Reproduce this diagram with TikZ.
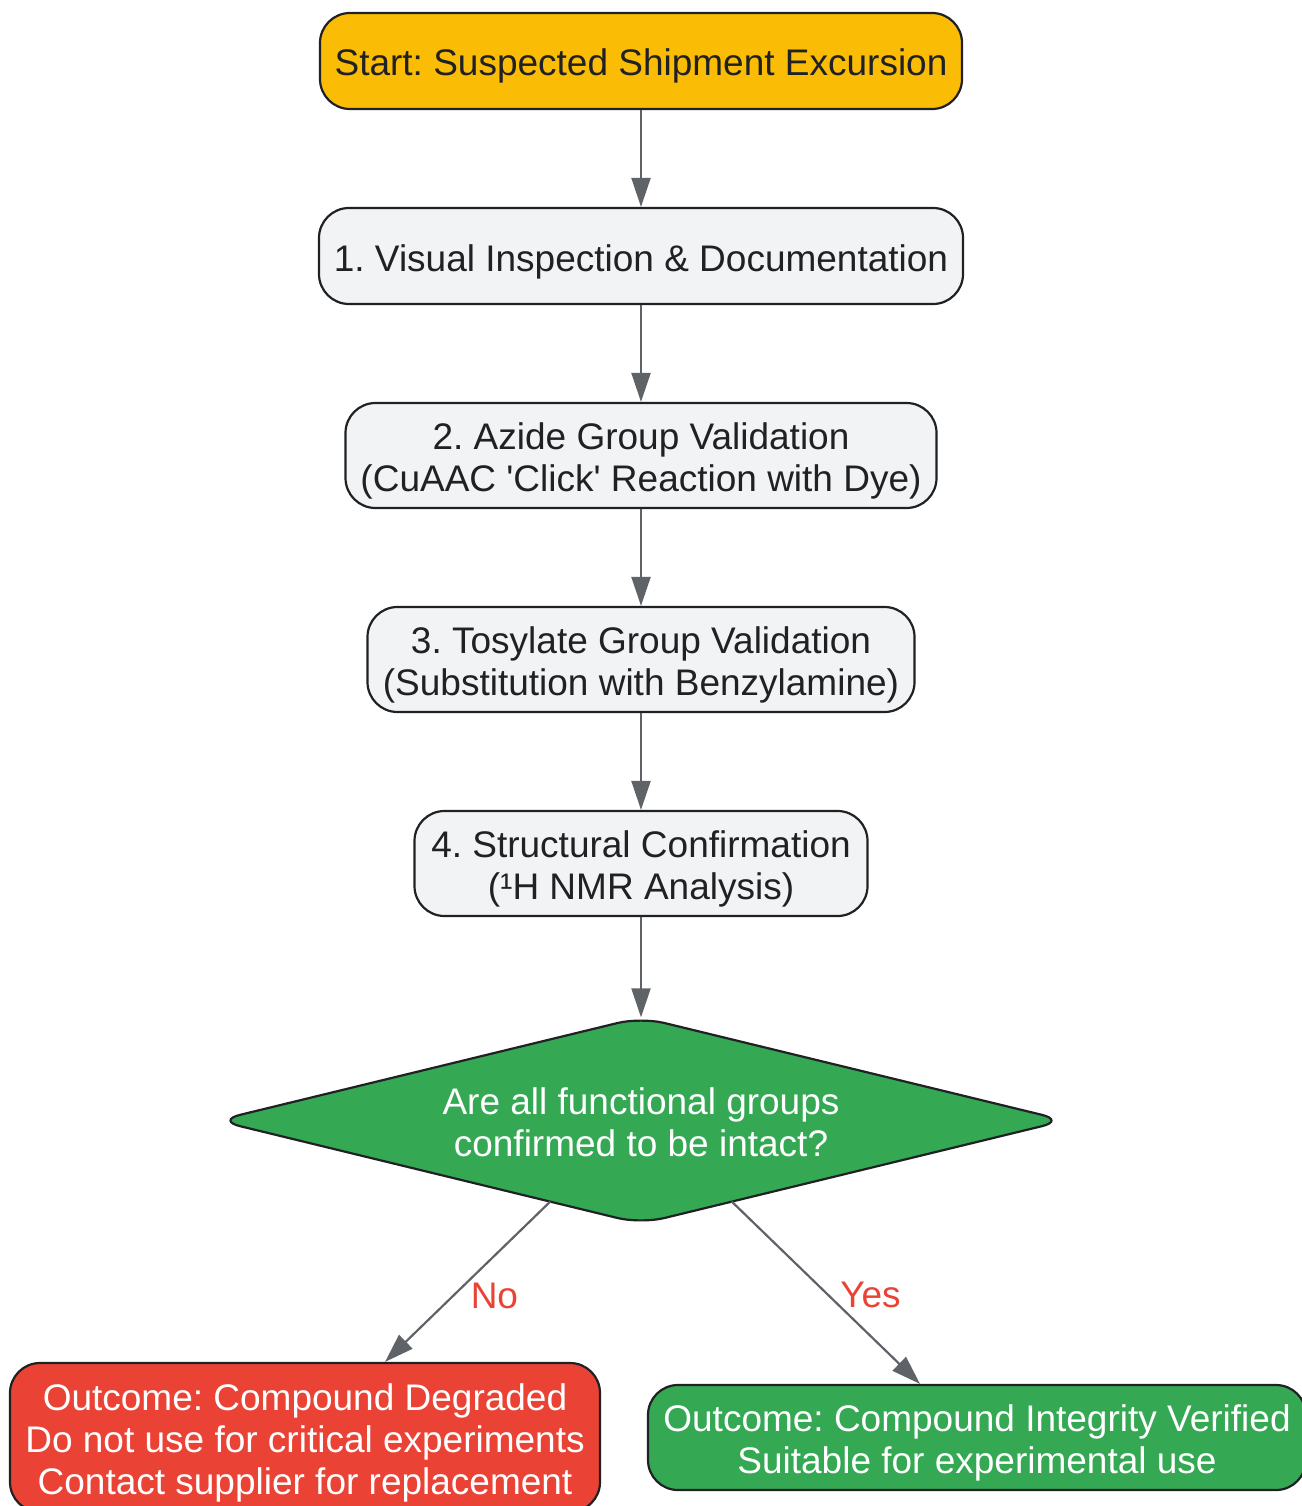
\documentclass[tikz,border=0pt]{standalone}
\usepackage{fontspec}
\setmainfont{Liberation Sans}
\usetikzlibrary{arrows.meta,calc,backgrounds}
\definecolor{ink}{HTML}{202124}
\definecolor{edgec}{HTML}{5F6368}
\definecolor{startc}{HTML}{FBBC05}
\definecolor{stepc}{HTML}{F1F3F4}
\definecolor{greenc}{HTML}{34A853}
\definecolor{redc}{HTML}{EA4335}
\newcommand\topstrut{\rule{0pt}{38pt}}
\newcommand\botstrut{\rule[-8pt]{0pt}{8pt}}
\begin{document}
\frenchspacing
\begin{tikzpicture}[x=1pt,y=-1pt,
  every node/.style={font=\fontsize{37}{42}\selectfont},
  box/.style={draw=ink, line width=2.2pt, rounded corners=30pt, inner sep=0pt, align=center, text=ink},
  flow/.style={draw=edgec, line width=2.2pt, -{Triangle[length=29pt,width=19pt]}},
  lbl/.style={text=redc, inner sep=0pt}]
\useasboundingbox (0,0) rectangle (1301,1506);
\node[box, fill=startc, minimum width=642pt, minimum height=96pt] (s) at (641,61) {\topstrut Start: Suspected Shipment Excursion\botstrut};
\node[box, fill=stepc, minimum width=644pt, minimum height=96pt] (a) at (641,256) {\topstrut 1. Visual Inspection \& Documentation\botstrut};
\node[box, fill=stepc, minimum width=591pt, minimum height=105pt] (b) at (641,455.5) {\topstrut 2. Azide Group Validation\\(CuAAC \textquotesingle Click\textquotesingle{} Reaction with Dye)\botstrut};
\node[box, fill=stepc, minimum width=547pt, minimum height=105pt] (c) at (641,659.5) {\topstrut 3. Tosylate Group Validation\\(Substitution with Benzylamine)\botstrut};
\node[box, fill=stepc, minimum width=453pt, minimum height=105pt] (d) at (641,863.5) {\topstrut 4. Structural Confirmation\\(¹H NMR Analysis)\botstrut};
\node[minimum width=848pt, minimum height=206pt, inner sep=0pt, align=center, text=white] (q) at (641,1120.5) {\topstrut Are all functional groups\\confirmed to be intact?\botstrut};
\begin{scope}[on background layer]
  \fill[white] (0,0) rectangle (1301,1506);
  \draw[draw=ink, line width=2.2pt, fill=greenc, rounded corners=24pt] (q.north) -- (q.east) -- (q.south) -- (q.west) -- cycle;
\end{scope}
\node[box, fill=redc, text=white, minimum width=590pt, minimum height=149pt] (no) at (305,1437.5) {\topstrut Outcome: Compound Degraded\\Do not use for critical experiments\\Contact supplier for replacement\botstrut};
\node[box, fill=greenc, text=white, minimum width=658pt, minimum height=105pt] (yes) at (977,1437.5) {\topstrut Outcome: Compound Integrity Verified\\Suitable for experimental use\botstrut};
\draw[flow] (s) -- (a);
\draw[flow] (a) -- (b);
\draw[flow] (b) -- (c);
\draw[flow] (c) -- (d);
\draw[flow] (d) -- (q);
\coordinate (qno) at ($(q.south)!0.214!(q.west)$);
\coordinate (qyes) at ($(q.south)!0.214!(q.east)$);
\draw[flow] (qno) -- ($(no.north)+(80,0)$) node[lbl, pos=0.586, xshift=41pt] {No};
\draw[flow] (qyes) -- ($(yes.north)+(-57,0)$) node[lbl, pos=0.514, xshift=42pt] {Yes};
\end{tikzpicture}
\end{document}
